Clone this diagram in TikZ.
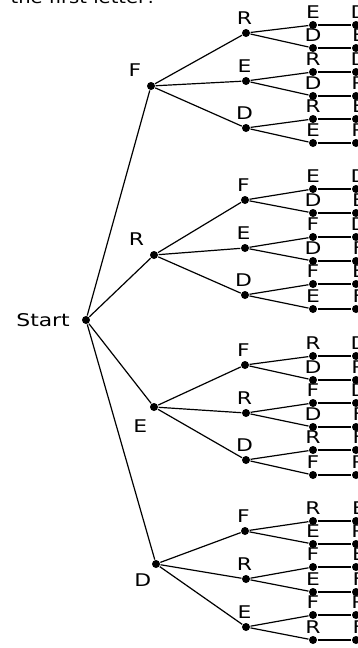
\documentclass[tikz,border=0pt]{standalone}
\usepackage{fontspec}
\setmainfont{DejaVu Sans}[FakeStretch=1.25]
\newfontfamily\questfont{DejaVu Sans}[FakeStretch=1.15]
\usepackage{tikz}
\tikzset{blob/.style={circle,fill,inner sep=0pt,minimum size=8pt},
  every label/.style={inner sep=1pt,font=\fontsize{17.5}{20}\selectfont}}
\begin{document}
\begin{tikzpicture}[x=1pt,y=-1pt,line width=1.2pt]
    \useasboundingbox (0,0) rectangle (358,648);
    \node[anchor=base west,inner sep=0pt,font=\questfont\fontsize{17}{20}\selectfont] (quest) at (10,3.5) {the first letter?};

    \node[blob,label={[label distance=10pt]left:Start}] (start) at (86,320) {};
    \node[blob,label={[xshift=-5pt,yshift=5pt]above left:F}] (f) at (151,86) {};
    \node[blob,label={[xshift=-5pt,yshift=5pt]above left:R}] (r) at (154,255) {};
    \node[blob,label={[xshift=-2pt,yshift=-8pt]below left:E}] (e) at (154,407) {};
    \node[blob,label={[xshift=0pt,yshift=-5pt]below left:D}] (d) at (156,564) {};

    \node[blob,label={[xshift=-1.5pt,label distance=2pt]above:R}] (fr) at (246,33) {};
    \node[blob,label={[xshift=-1.5pt,label distance=2pt]above:E}] (fe) at (246,81) {};
    \node[blob,label={[xshift=-1.5pt,label distance=2pt]above:D}] (fd) at (246,128) {};
    \node[blob,label={[xshift=-1.5pt,label distance=2pt]above:F}] (rf) at (245,200) {};
    \node[blob,label={[xshift=-1.5pt,label distance=2pt]above:E}] (re) at (245,248) {};
    \node[blob,label={[xshift=-1.5pt,label distance=2pt]above:D}] (rd) at (245,295) {};
    \node[blob,label={[xshift=-1.5pt,label distance=2pt]above:F}] (ef) at (245,365) {};
    \node[blob,label={[xshift=-1.5pt,label distance=2pt]above:R}] (er) at (246,413) {};
    \node[blob,label={[xshift=-1.5pt,label distance=2pt]above:D}] (ed) at (246,460) {};
    \node[blob,label={[xshift=-1.5pt,label distance=2pt]above:F}] (df) at (245,531) {};
    \node[blob,label={[xshift=-1.5pt,label distance=2pt]above:R}] (dr) at (246,579) {};
    \node[blob,label={[xshift=-1.5pt,label distance=2pt]above:E}] (de) at (246,627) {};

    \node[blob,label=above:E] (fre) at (313,25) {};
    \node[blob,label=above:D] (frd) at (313,48) {};
    \node[blob,label=above:R] (fer) at (313,72) {};
    \node[blob,label=above:D] (fed) at (313,96) {};
    \node[blob,label=above:R] (fdr) at (313,119) {};
    \node[blob,label=above:E] (fde) at (313,143) {};
    \node[blob,label=above:E] (rfe) at (313,189) {};
    \node[blob,label=above:D] (rfd) at (313,213) {};
    \node[blob,label=above:F] (ref) at (313,237) {};
    \node[blob,label=above:D] (red) at (313,261) {};
    \node[blob,label=above:F] (rdf) at (313,284) {};
    \node[blob,label=above:E] (rde) at (313,309) {};
    \node[blob,label=above:R] (efr) at (313,356) {};
    \node[blob,label=above:D] (efd) at (313,380) {};
    \node[blob,label=above:F] (erf) at (313,403) {};
    \node[blob,label=above:D] (erd) at (313,427) {};
    \node[blob,label=above:R] (edr) at (313,450) {};
    \node[blob,label=above:F] (edf) at (313,475) {};
    \node[blob,label=above:R] (dfr) at (313,521) {};
    \node[blob,label=above:E] (dfe) at (313,544) {};
    \node[blob,label=above:F] (drf) at (313,567) {};
    \node[blob,label=above:E] (dre) at (313,592) {};
    \node[blob,label=above:F] (def) at (313,615) {};
    \node[blob,label=above:R] (der) at (313,640) {};

    \node[blob,label={[xshift=3pt]above:D}] (fred) at (356,25) {};
    \node[blob,label={[xshift=3pt]above:E}] (frde) at (356,48) {};
    \node[blob,label={[xshift=3pt]above:D}] (ferd) at (356,72) {};
    \node[blob,label={[xshift=3pt]above:R}] (fedr) at (356,96) {};
    \node[blob,label={[xshift=3pt]above:E}] (fdre) at (356,119) {};
    \node[blob,label={[xshift=3pt]above:R}] (fder) at (356,143) {};
    \node[blob,label={[xshift=3pt]above:D}] (rfed) at (356,189) {};
    \node[blob,label={[xshift=3pt]above:E}] (rfde) at (356,213) {};
    \node[blob,label={[xshift=3pt]above:D}] (refd) at (356,237) {};
    \node[blob,label={[xshift=3pt]above:F}] (redf) at (356,261) {};
    \node[blob,label={[xshift=3pt]above:E}] (rdfe) at (356,284) {};
    \node[blob,label={[xshift=3pt]above:F}] (rdef) at (356,309) {};
    \node[blob,label={[xshift=3pt]above:D}] (efrd) at (356,356) {};
    \node[blob,label={[xshift=3pt]above:R}] (efdr) at (356,380) {};
    \node[blob,label={[xshift=3pt]above:D}] (erfd) at (356,403) {};
    \node[blob,label={[xshift=3pt]above:F}] (erdf) at (356,427) {};
    \node[blob,label={[xshift=3pt]above:F}] (edrf) at (356,450) {};
    \node[blob,label={[xshift=3pt]above:R}] (edfr) at (356,475) {};
    \node[blob,label={[xshift=3pt]above:E}] (dfre) at (356,521) {};
    \node[blob,label={[xshift=3pt]above:R}] (dfer) at (356,544) {};
    \node[blob,label={[xshift=3pt]above:E}] (drfe) at (356,567) {};
    \node[blob,label={[xshift=3pt]above:F}] (dref) at (356,592) {};
    \node[blob,label={[xshift=3pt]above:R}] (defr) at (356,615) {};
    \node[blob,label={[xshift=3pt]above:F}] (derf) at (356,640) {};

    \draw (start) to (f);
    \draw (start) to (r);
    \draw (start) to (e);
    \draw (start) to (d);

    \draw (f) to (fr);   \draw (f) to (fe);   \draw (f) to (fd);
    \draw (r) to (rf);   \draw (r) to (re);   \draw (r) to (rd);
    \draw (e) to (ef);   \draw (e) to (er);   \draw (e) to (ed);
    \draw (d) to (df);   \draw (d) to (dr);   \draw (d) to (de);

    \draw (fr) to (fre); \draw (fr) to (frd);
    \draw (fe) to (fer); \draw (fe) to (fed);
    \draw (fd) to (fdr); \draw (fd) to (fde);
    \draw (rf) to (rfe); \draw (rf) to (rfd);
    \draw (re) to (ref); \draw (re) to (red);
    \draw (rd) to (rdf); \draw (rd) to (rde);
    \draw (ef) to (efr); \draw (ef) to (efd);
    \draw (er) to (erf); \draw (er) to (erd);
    \draw (ed) to (edr); \draw (ed) to (edf);
    \draw (df) to (dfr); \draw (df) to (dfe);
    \draw (dr) to (drf); \draw (dr) to (dre);
    \draw (de) to (def); \draw (de) to (der);

    \draw (fre) to (fred); \draw (frd) to (frde);
    \draw (fer) to (ferd); \draw (fed) to (fedr);
    \draw (fdr) to (fdre); \draw (fde) to (fder);
    \draw (rfe) to (rfed); \draw (rfd) to (rfde);
    \draw (ref) to (refd); \draw (red) to (redf);
    \draw (rdf) to (rdfe); \draw (rde) to (rdef);
    \draw (efr) to (efrd); \draw (efd) to (efdr);
    \draw (erf) to (erfd); \draw (erd) to (erdf);
    \draw (edr) to (edrf); \draw (edf) to (edfr);
    \draw (dfr) to (dfre); \draw (dfe) to (dfer);
    \draw (drf) to (drfe); \draw (dre) to (dref);
    \draw (def) to (defr); \draw (der) to (derf);
\end{tikzpicture}
\end{document}
